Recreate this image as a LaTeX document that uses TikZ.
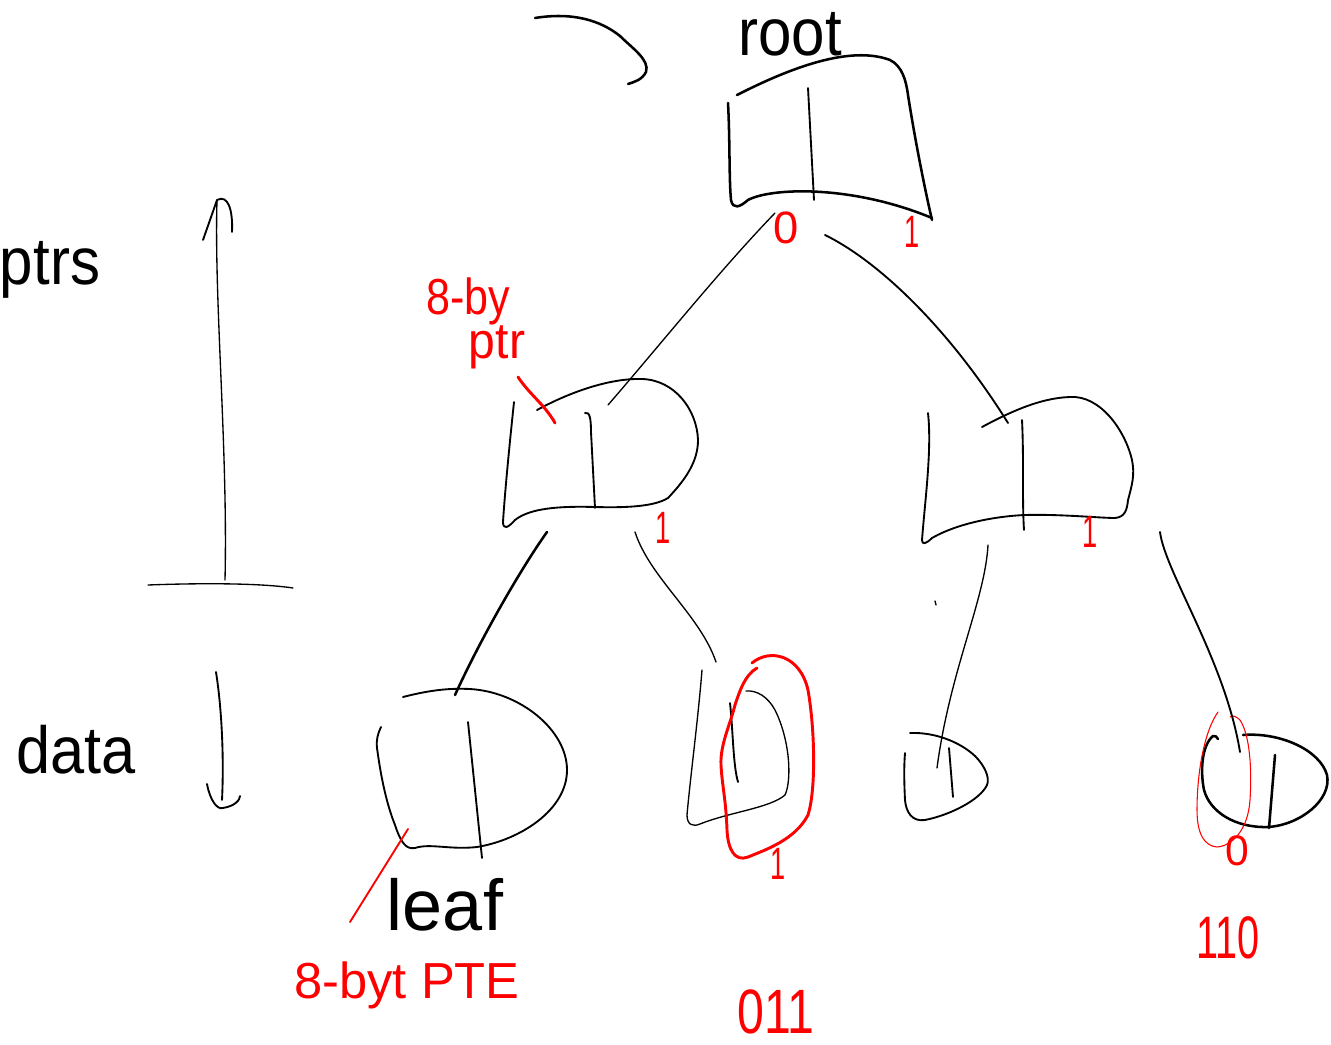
\documentclass[tikz,border=0pt]{standalone}
\usepackage{fontspec}
\setmainfont{Liberation Sans}
\begin{document}
\begin{tikzpicture}[x=0.75pt,y=-0.75pt]
\tikzset{
 ink/.style={draw=black, line width=1.9pt, line cap=round, line join=round},
 inkmid/.style={draw=black, line width=1.4pt, line cap=round, line join=round},
 inkthin/.style={draw=black, line width=1.0pt, line cap=round, line join=round},
 rink/.style={draw=red, line width=2.2pt, line cap=round, line join=round},
 rmid/.style={draw=red, line width=1.4pt, line cap=round},
 rthin/.style={draw=red, line width=0.8pt, line cap=round, line join=round},
 lbl/.style={inner sep=0pt, text=black},
 rlbl/.style={inner sep=0pt, text=red},
 rone/.style={inner sep=0pt, text=red, font=\fontsize{34}{38}\selectfont, xscale=0.6},
}
\useasboundingbox (0,0) rectangle (1331,1045);
\fill[white] (0,0) rectangle (1331,1045);

% ---------- named anchor points for connectors ----------
\coordinate (arrA) at (535,18);
\coordinate (arrB) at (628,84);
\coordinate (rootL) at (775,213);
\coordinate (rootR) at (825,235);
\coordinate (mlT) at (608,405);
\coordinate (mrT) at (1008,423);
\coordinate (mlBL) at (547,532);
\coordinate (mlBR) at (635,532);
\coordinate (mrBL) at (988,545);
\coordinate (mrBR) at (1160,532);
\coordinate (l1T) at (455,695);
\coordinate (l2T) at (716,662);
\coordinate (l3T) at (937,768);
\coordinate (l4T) at (1240,752);
\coordinate (upB) at (225,580);
\coordinate (upT) at (217,200);
\coordinate (hL) at (148,585);
\coordinate (hR) at (293,588);
\coordinate (dnT) at (216,672);
\coordinate (dnB) at (223,808);
\coordinate (leafA) at (408,829);
\coordinate (leafB) at (350,922);

% ---------- top arrow into root ----------
\draw[ink] (arrA) .. controls (572,12) and (600,20) .. (620,36)
  .. controls (632,48) and (650,60) .. (646,72)
  .. controls (642,80) and (634,82) .. (arrB);

% ---------- root node ----------
\draw[ink] (737,95) .. controls (790,68) and (850,45) .. (890,60)
  .. controls (902,66) and (906,80) .. (908,95)
  .. controls (915,140) and (925,190) .. (932,220);
\draw[ink] (728,103) .. controls (730,140) and (729,180) .. (731,200)
  .. controls (733,210) and (740,207) .. (748,200)
  .. controls (770,188) and (850,184) .. (932,218);
\draw[inkmid] (808,88) -- (814,200);
\node[lbl, font=\fontsize{50}{56}\selectfont, xscale=0.9] (rootlbl) at (790,34) {root};
\node[rlbl, font=\fontsize{34}{38}\selectfont] (r0) at (786,228) {0};
\node[rone] (r1) at (912,232) {1};

% ---------- middle-left node ----------
\draw[inkmid] (514,402) .. controls (510,440) and (505,490) .. (503,522)
  .. controls (503,530) and (508,528) .. (515,520)
  .. controls (530,508) and (560,506) .. (595,507)
  .. controls (630,508) and (655,506) .. (668,498)
  .. controls (685,480) and (698,462) .. (698,440)
  .. controls (697,410) and (675,380) .. (642,379)
  .. controls (610,378) and (570,392) .. (537,410);
\draw[inkmid] (585,413) .. controls (590,411) and (591,420) .. (591,432) -- (595,508);
\draw[rink] (518,377) .. controls (530,395) and (545,405) .. (555,423);
\node[rlbl, font=\fontsize{38}{42}\selectfont, xscale=0.85] (b8) at (468,301) {8-by};
\node[rlbl, font=\fontsize{38}{42}\selectfont, xscale=0.95] (bptr) at (497,347) {ptr};
\node[rone] (ml1) at (663,528) {1};

% ---------- middle-right node ----------
\draw[inkmid] (928,413) .. controls (932,450) and (925,500) .. (922,540)
  .. controls (922,545) and (926,544) .. (932,538)
  .. controls (960,522) and (1000,516) .. (1025,515)
  .. controls (1060,514) and (1100,518) .. (1115,518)
  .. controls (1125,517) and (1127,510) .. (1128,500)
  .. controls (1132,485) and (1135,475) .. (1132,460)
  .. controls (1125,430) and (1100,395) .. (1070,397)
  .. controls (1040,398) and (1010,412) .. (982,427);
\draw[inkmid] (1022,420) .. controls (1024,460) and (1022,500) .. (1024,530);
\node[rone] (mr1) at (1090,532) {1};

% ---------- leaves ----------
\draw[inkmid] (403,697) .. controls (430,690) and (450,688) .. (470,689)
  .. controls (520,692) and (567,730) .. (567,770)
  .. controls (567,810) and (520,840) .. (477,847)
  .. controls (450,850) and (430,843) .. (415,848)
  .. controls (405,850) and (400,840) .. (395,825)
  .. controls (385,800) and (380,770) .. (377,748)
  .. controls (376,740) and (378,733) .. (381,727);
\draw[inkmid] (468,722) -- (482,858);

\draw[inkthin] (702,670) .. controls (698,720) and (690,780) .. (687,815)
  .. controls (687,825) and (693,827) .. (700,824)
  .. controls (730,812) and (770,808) .. (785,795)
  .. controls (792,780) and (790,740) .. (775,710)
  .. controls (768,697) and (757,690) .. (746,691);
\draw[inkmid] (730,703) .. controls (733,730) and (733,765) .. (738,782);
\draw[rink] (752,663) .. controls (770,648) and (800,655) .. (808,690)
  .. controls (815,730) and (816,790) .. (808,815)
  .. controls (795,840) and (765,850) .. (748,857)
  .. controls (735,862) and (728,850) .. (727,830)
  .. controls (726,800) and (722,785) .. (721,765)
  .. controls (720,745) and (730,725) .. (735,705)
  .. controls (740,690) and (745,675) .. (757,668);
\node[rone] (l21) at (778,864) {1};

\draw[inkmid] (910,733) .. controls (935,732) and (960,742) .. (975,756)
  .. controls (985,766) and (990,778) .. (987,785)
  .. controls (980,800) and (950,815) .. (925,820)
  .. controls (912,822) and (906,812) .. (905,800)
  .. controls (904,780) and (904,765) .. (905,753);
\draw[inkmid] (949,748) -- (953,797);

\draw[ink] (1243,735) .. controls (1280,732) and (1320,750) .. (1327,775)
  .. controls (1332,800) and (1300,825) .. (1268,827)
  .. controls (1235,828) and (1210,812) .. (1204,790)
  .. controls (1200,770) and (1202,745) .. (1213,736)
  .. controls (1215,735) and (1217,737) .. (1218,739);
\draw[ink] (1275,755) -- (1269,828);
\draw[rthin] (1218,712) .. controls (1205,730) and (1197,770) .. (1197,810)
  .. controls (1197,835) and (1205,846) .. (1217,847)
  .. controls (1232,846) and (1248,830) .. (1250,800)
  .. controls (1252,770) and (1250,735) .. (1240,720)
  .. controls (1236,716) and (1232,715) .. (1230,717);
\node[rlbl, font=\fontsize{32}{36}\selectfont] (l40) at (1237,851) {0};

% ---------- connectors ----------
\draw[inkthin] (rootL) .. controls (720,270) and (660,345) .. (mlT);
\draw[inkmid] (rootR) .. controls (880,262) and (950,330) .. (mrT);
\draw[ink] (mlBL) .. controls (520,570) and (480,640) .. (l1T);
\draw[inkthin] (mlBR) .. controls (650,578) and (700,615) .. (l2T);
\draw[inkthin] (mrBL) .. controls (985,600) and (950,670) .. (l3T);
\draw[inkthin] (935,601) -- (936,605);
\draw[inkmid] (mrBR) .. controls (1165,572) and (1225,660) .. (l4T);

% ---------- left level arrows ----------
\draw[inkthin] (upB) .. controls (228,450) and (214,300) .. (upT);
\draw[inkmid] (203,240) -- (upT) .. controls (228,194) and (233,210) .. (232,232);
\draw[inkthin] (hL) .. controls (200,583) and (260,583) .. (hR);
\draw[inkmid] (dnT) .. controls (222,710) and (224,760) .. (222,800);
\draw[inkmid] (207,784) .. controls (210,800) and (217,810) .. (dnB)
  .. controls (235,806) and (240,800) .. (240,796);
\node[lbl, font=\fontsize{50}{56}\selectfont, xscale=0.9] (ptrs) at (50,270) {ptrs};
\node[lbl, font=\fontsize{50}{56}\selectfont, xscale=0.92] (data) at (76,750) {data};

% ---------- leaf labels ----------
\draw[rmid] (leafA) -- (leafB);
\node[lbl, font=\fontsize{54}{60}\selectfont] (leaf) at (445,905) {leaf};
\node[rlbl, font=\fontsize{38}{42}\selectfont] (pte) at (407,985) {8-byt PTE};
\node[rlbl, font=\fontsize{47}{52}\selectfont, xscale=0.77] (b011) at (776,1012) {011};
\node[rlbl, font=\fontsize{45}{50}\selectfont, xscale=0.66] (b110) at (1228,938) {110};
\end{tikzpicture}
\end{document}
